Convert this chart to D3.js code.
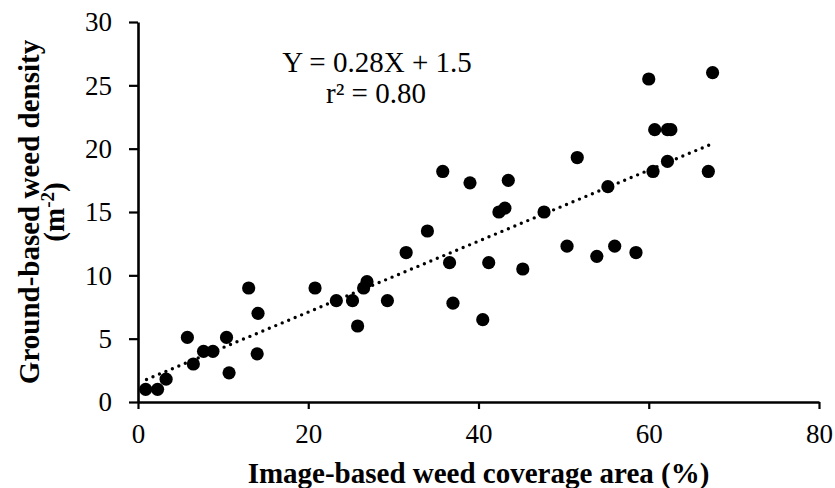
<!DOCTYPE html>
<html>
<head>
<meta charset="utf-8">
<script src="https://cdn.jsdelivr.net/npm/d3@7"></script>
<style>
  html, body { margin: 0; padding: 0; background: #fff; }
  svg { display: block; }
  text { font-family: "Liberation Serif", "Times New Roman", serif; fill: #000; }
</style>
</head>
<body>
<svg id="chart" width="835" height="488"></svg>
<script>
// Image-based weed coverage (%) per sampling quadrat
const coverage = [0.9, 2.3, 3.3, 5.8, 6.5, 7.7, 8.8, 10.4, 10.7, 13.0, 14.1, 14.0, 20.8, 23.3, 25.2,
  25.8, 26.5, 26.9, 29.3, 31.5, 34.0, 35.8, 36.6, 37.0, 39.0, 40.5, 41.2, 42.4, 43.1, 43.5,
  45.2, 47.7, 50.4, 51.6, 53.9, 56.0, 58.5, 55.2, 60.0, 60.5, 60.7, 62.2, 62.6, 62.2, 67.0, 67.5];
// Ground-based weed density (plants per m²) for the same quadrats
const density = [1.0, 1.0, 1.8, 5.1, 3.0, 4.0, 4.0, 5.1, 2.3, 9.0, 7.0, 3.8, 9.0, 8.0, 8.0,
  6.0, 9.0, 9.5, 8.0, 11.8, 13.5, 18.2, 11.0, 7.8, 17.3, 6.5, 11.0, 15.0, 15.3, 17.5,
  10.5, 15.0, 12.3, 19.3, 11.5, 12.3, 11.8, 17.0, 25.5, 18.2, 21.5, 21.5, 21.5, 19.0, 18.2, 26.0];

// Linear fit reported on the chart
const slope = 0.28;
const intercept = 1.5;
const rSquared = "0.80";
const fitRange = [1.0, 67.5];

const xTicks = [0, 20, 40, 60, 80];
const yTicks = [0, 5, 10, 15, 20, 25, 30];

const svg = d3.select("#chart");
const plotLeft = 138, plotRight = 819, plotTop = 22, plotBottom = 402;

const x = d3.scaleLinear().domain([0, 80]).range([plotLeft, plotRight]);
const y = d3.scaleLinear().domain([0, 30]).range([plotBottom, plotTop]);

// Axes
const xAxis = svg.append("g")
  .attr("transform", `translate(0,${plotBottom})`)
  .call(d3.axisBottom(x).tickValues(xTicks).tickSize(7).tickSizeOuter(0).tickPadding(15));
const yAxis = svg.append("g")
  .attr("transform", `translate(${plotLeft},0)`)
  .call(d3.axisLeft(y).tickValues(yTicks).tickSize(9).tickSizeOuter(0).tickPadding(17));

[xAxis, yAxis].forEach(g => {
  g.select(".domain").attr("stroke", "#000").attr("stroke-width", 2.6);
  g.selectAll(".tick line").attr("stroke", "#000").attr("stroke-width", 2.2);
  g.selectAll(".tick text")
    .style("font-family", "'Liberation Serif', 'Times New Roman', serif")
    .style("font-size", "27px")
    .attr("fill", "#000");
});
xAxis.selectAll(".tick text").attr("dy", "0.71em");
yAxis.selectAll(".tick text").attr("dy", "0.33em");

// Trend line (dotted)
svg.append("line")
  .attr("x1", x(fitRange[0])).attr("y1", y(slope * fitRange[0] + intercept))
  .attr("x2", x(fitRange[1])).attr("y2", y(slope * fitRange[1] + intercept))
  .attr("stroke", "#000")
  .attr("stroke-width", 3.4)
  .attr("stroke-linecap", "round")
  .attr("stroke-dasharray", "0,7");

// Points
svg.append("g").selectAll("circle")
  .data(coverage.map((c, i) => [c, density[i]]))
  .join("circle")
  .attr("cx", d => x(d[0]))
  .attr("cy", d => y(d[1]))
  .attr("r", 6.6)
  .attr("fill", "#000");

// Regression equation
svg.append("text")
  .attr("x", 377).attr("y", 72)
  .attr("text-anchor", "middle")
  .style("font-size", "29px")
  .text(`Y = ${slope}X + ${intercept}`);
svg.append("text")
  .attr("x", 376).attr("y", 103)
  .attr("text-anchor", "middle")
  .style("font-size", "29px")
  .text(`r² = ${rSquared}`);

// Axis titles
svg.append("text")
  .attr("x", (plotLeft + plotRight) / 2).attr("y", 483)
  .attr("text-anchor", "middle")
  .style("font-size", "29px")
  .style("font-weight", "bold")
  .text("Image-based weed coverage area (%)");

const yTitle = svg.append("text")
  .attr("transform", `translate(39,${(plotTop + plotBottom) / 2}) rotate(-90)`)
  .attr("text-anchor", "middle")
  .style("font-size", "29px")
  .style("font-weight", "bold");
yTitle.append("tspan").attr("x", 0).attr("y", 0).text("Ground-based weed density");
const unit = yTitle.append("tspan").attr("x", 0).attr("y", 25);
unit.append("tspan").text("(m");
unit.append("tspan").attr("dy", -10).style("font-size", "19px").text("-2");
unit.append("tspan").attr("dy", 10).text(")");
</script>
</body>
</html>
